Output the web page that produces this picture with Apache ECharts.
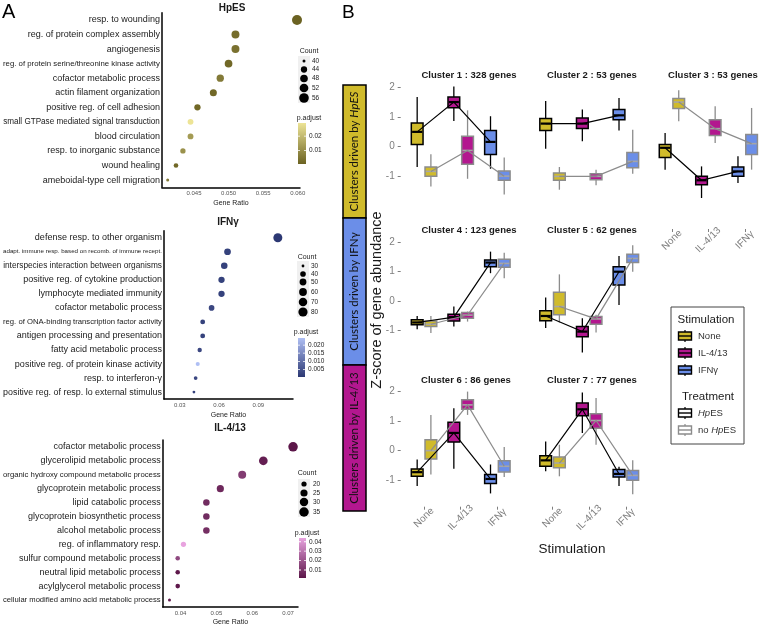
<!DOCTYPE html>
<html><head><meta charset="utf-8">
<script src="https://cdn.jsdelivr.net/npm/echarts@6/dist/echarts.min.js"></script>
<style>html,body{margin:0;padding:0;background:#fff}#c{width:763px;height:627px}</style>
</head><body><div id="c"></div><script>
// ---------------- Panel A data ----------------
const hpesTerms = ['resp. to wounding','reg. of protein complex assembly','angiogenesis','reg. of protein serine/threonine kinase activity','cofactor metabolic process','actin filament organization','positive reg. of cell adhesion','small GTPase mediated signal transduction','blood circulation','resp. to inorganic substance','wound healing','ameboidal-type cell migration'];
const hpesRatio = [0.0599,0.0510,0.0510,0.0500,0.0488,0.0478,0.0455,0.0445,0.0445,0.0434,0.0424,0.0412];
const hpesCount = [58,49,49,48,47,46,44,43,43,42,41,40];
const hpesPadj = [0.0007,0.003,0.004,0.002,0.006,0.002,0.002,0.029,0.013,0.011,0.002,0.006];
const hpesCountBreaks = [40,44,48,52,56];
const hpesPadjBreaks = [0.02,0.01];

const ifnTerms = ['defense resp. to other organism','adapt. immune resp. based on recomb. of immune recept.','interspecies interaction between organisms','positive reg. of cytokine production','lymphocyte mediated immunity','cofactor metabolic process','reg. of ONA-binding transcription factor activity','antigen processing and presentation','fatty acid metabolic process','positive reg. of protein kinase activity','resp. to interferon-γ','positive reg. of resp. lo external stimulus'];
const ifnRatio = [0.105,0.0665,0.064,0.0619,0.0619,0.0543,0.0475,0.0475,0.0452,0.0437,0.0421,0.0408];
const ifnCount = [77,49,47,45,45,40,35,35,33,32,31,30];
const ifnPadj = [0.0003,0.002,0.002,0.002,0.002,0.003,0.002,0.002,0.003,0.0244,0.003,0.002];
const ifnCountBreaks = [30,40,50,60,70,80];
const ifnPadjBreaks = [0.020,0.015,0.010,0.005];

const ilTerms = ['cofactor metabolic process','glycerolipid metabolic process','organic hydroxy compound metabolic process','glycoprotein metabolic process','lipid catabolic process','glycoprotein biosynthetic process','alcohol metabolic process','reg. of inflammatory resp.','sulfur compound metabolic process','neutral lipid metabolic process','acylglycerol metabolic process','cellular modified amino acid metabolic process'];
const ilRatio = [0.0714,0.0631,0.0572,0.0511,0.0472,0.0472,0.0472,0.0408,0.0392,0.0392,0.0392,0.0369];
const ilCount = [35,31,28,25,23,23,23,20,19,19,19,18];
const ilPadj = [0.0015,0.004,0.013,0.007,0.008,0.008,0.009,0.044,0.017,0.002,0.002,0.003];
const ilCountBreaks = [20,25,30,35];
const ilPadjBreaks = [0.04,0.03,0.02,0.01];

// ---------------- Panel B data ----------------
const stimulations = ['None','IL-4/13','IFNγ'];
const clusterNames = ['Cluster 1 : 328 genes','Cluster 2 : 53 genes','Cluster 3 : 53 genes','Cluster 4 : 123 genes','Cluster 5 : 62 genes','Cluster 6 : 86 genes','Cluster 7 : 77 genes'];
// [lower whisker, Q1, median, Q3, upper whisker] for None, IL-4/13, IFNγ
const c1HpES   = [[-0.70,0.06,0.49,0.79,1.67],[0.86,1.31,1.50,1.67,2.03],[-0.76,-0.28,0.15,0.54,1.02]];
const c1NoHpES = [[-1.36,-1.01,-0.85,-0.70,-0.27],[-1.10,-0.61,-0.14,0.34,1.22],[-1.63,-1.15,-1.01,-0.84,-0.38]];
const c2HpES   = [[-0.08,0.54,0.77,0.94,1.54],[0.17,0.60,0.77,0.96,1.25],[0.54,0.90,1.05,1.25,1.64]];
const c2NoHpES = [[-1.47,-1.15,-1.02,-0.90,-0.70],[-1.32,-1.13,-1.02,-0.93,-0.79],[-0.93,-0.73,-0.51,-0.21,0.56]];
const c3HpES   = [[-0.79,-0.38,-0.05,0.06,0.45],[-1.75,-1.30,-1.15,-1.01,-0.68],[-1.24,-1.01,-0.85,-0.70,-0.34]];
const c3NoHpES = [[0.85,1.28,1.50,1.62,1.90],[0.11,0.37,0.60,0.90,1.36],[-0.79,-0.28,0.09,0.40,1.30]];
const c4HpES   = [[-0.96,-0.81,-0.73,-0.64,-0.51],[-0.87,-0.68,-0.55,-0.45,-0.19],[0.94,1.16,1.30,1.39,1.67]];
const c4NoHpES = [[-1.09,-0.87,-0.79,-0.68,-0.51],[-0.70,-0.59,-0.48,-0.39,-0.36],[0.77,1.14,1.27,1.41,1.63]];
const c5HpES   = [[-0.92,-0.67,-0.51,-0.33,0.12],[-1.75,-1.21,-1.04,-0.87,-0.59],[-0.14,0.54,0.99,1.16,1.52]];
const c5NoHpES = [[-0.73,-0.47,-0.19,0.29,0.90],[-1.07,-0.79,-0.61,-0.53,-0.47],[0.99,1.30,1.44,1.58,1.89]];
const c6HpES   = [[-1.20,-0.87,-0.73,-0.62,-0.30],[-0.61,0.29,0.60,0.96,1.44],[-1.45,-1.11,-0.96,-0.81,-0.47]];
const c6NoHpES = [[-0.81,-0.28,0.00,0.37,1.21],[1.21,1.40,1.55,1.72,2.00],[-0.89,-0.72,-0.53,-0.34,0.12]];
const c7HpES   = [[-0.70,-0.53,-0.33,-0.17,0.31],[0.60,1.18,1.40,1.61,1.97],[-1.20,-0.89,-0.79,-0.64,-0.55]];
const c7NoHpES = [[-0.87,-0.58,-0.42,-0.22,0.20],[0.20,0.76,1.02,1.25,1.78],[-1.48,-1.00,-0.84,-0.67,-0.33]];
const yTicksB = [-1,0,1,2];

// ---------------- styles / layout ----------------
const FONT = '"Liberation Sans", Arial, sans-serif';
const TXT = '#1a1a1a';
const GRAYTXT = '#7f7f7f';
const stimColors = ['#d0bb2b','#b3178f','#6b8ee8'];
const treatStroke = ['#000000','#8c8c8c'];
const treatMedian = ['#000000','#a6a6a6'];
const DODGE = 0.187, BOXW = 0.32;

const measureCtx = document.createElement('canvas').getContext('2d');
function fitSize(text, maxW, base) {
  measureCtx.font = base + 'px "Liberation Sans"';
  const w = measureCtx.measureText(text).width;
  return w > maxW ? base * maxW / w : base;
}
function sizeScale(counts, dmin, dmax) {
  const lo = Math.min(...counts), hi = Math.max(...counts);
  return c => dmin + (dmax - dmin) * Math.sqrt(Math.max(0, (c - lo) / (hi - lo)));
}

const aPanels = [
  {terms:hpesTerms, ratio:hpesRatio, count:hpesCount, padj:hpesPadj, title:'HpES', titlePos:[232,8],
   grid:{left:161, top:12.7, width:139, height:174.6}, xmin:0.04036, xmax:0.06033, ticks:[0.045,0.05,0.055,0.06], dec:3,
   colors:['#6b6222','#ede496'], sizes:[3,10], maxW:157,
   countBreaks:hpesCountBreaks, countTitle:[309,51], dotX:304, labX:312, countYs:[61,69.5,78.5,88,98],
   padjBreaks:hpesPadjBreaks, padjTitle:[309,118], bar:{x:298,y:123,w:8,h:41}, padjDec:2},
  {terms:ifnTerms, ratio:ifnRatio, count:ifnCount, padj:ifnPadj, title:'IFNγ', titlePos:[228,222],
   grid:{left:163, top:230.7, width:130, height:168.4}, xmin:0.01785, xmax:0.1166, ticks:[0.03,0.06,0.09], dec:2,
   colors:['#2c3873','#afbff4'], sizes:[2.8,9], maxW:159,
   countBreaks:ifnCountBreaks, countTitle:[307,257], dotX:303, labX:311, countYs:[266,274,282,292,302,312],
   padjBreaks:ifnPadjBreaks, padjTitle:[306,332], bar:{x:298,y:338,w:7,h:39}, padjDec:3},
  {terms:ilTerms, ratio:ilRatio, count:ilCount, padj:ilPadj, title:'IL-4/13', titlePos:[230,428],
   grid:{left:162, top:439.9, width:136, height:170.2}, xmin:0.035, xmax:0.07278, ticks:[0.04,0.05,0.06,0.07], dec:2,
   colors:['#5c1649','#e8a3df'], sizes:[3,9.5], maxW:158,
   countBreaks:ilCountBreaks, countTitle:[307,473], dotX:304, labX:313, countYs:[484,493,502,512],
   padjBreaks:ilPadjBreaks, padjTitle:[307,533], bar:{x:299,y:538,w:7,h:40}, padjDec:2}
];

const bLayout = {colLeft:[405.7,534.2,653.7], rowTop:[81.4,236,385.7], w:110, h:121, ymin:-1.9, ymax:2.2};
const clusterCell = [[0,0],[0,1],[0,2],[1,0],[1,1],[2,0],[2,1]];
const clusterTitlePos = [[469,75],[592,75],[713,75],[469,230],[592,230],[466,380],[592,380]];
const clusterHp = [c1HpES,c2HpES,c3HpES,c4HpES,c5HpES,c6HpES,c7HpES];
const clusterNo = [c1NoHpES,c2NoHpES,c3NoHpES,c4NoHpES,c5NoHpES,c6NoHpES,c7NoHpES];
const xLabelOffset = {2:26.6, 5:0, 6:0};

const grid = [], xAxis = [], yAxis = [], series = [], visualMap = [], elements = [];

// ---------------- Panel A ----------------
aPanels.forEach((p, i) => {
  grid.push(p.grid);
  xAxis.push({type:'value', gridIndex:i, min:p.xmin, max:p.xmax,
    axisLine:{show:true, onZero:false, lineStyle:{color:'#000', width:1.5}},
    axisTick:{show:false}, splitLine:{show:false},
    axisLabel:{customValues:p.ticks, formatter:v => v.toFixed(p.dec), fontSize:6, color:'#555', margin:3},
    name:'Gene Ratio', nameLocation:'middle', nameGap:12, nameTextStyle:{fontSize:7, color:TXT}});
  yAxis.push({type:'category', gridIndex:i, inverse:true,
    data:p.terms.map(t => ({value:t, textStyle:{fontSize:fitSize(t, p.maxW, 9)}})),
    axisLine:{show:true, onZero:false, lineStyle:{color:'#000', width:1.5}}, axisTick:{show:false},
    axisLabel:{color:TXT, margin:2, fontSize:9, interval:0}, splitLine:{show:false}});
  const sz = sizeScale(p.count, p.sizes[0], p.sizes[1]);
  series.push({type:'scatter', xAxisIndex:i, yAxisIndex:i,
    data:p.terms.map((t, k) => [p.ratio[k], k, p.padj[k], p.count[k]]),
    encode:{x:0, y:1}, symbolSize:v => sz(v[3]), itemStyle:{opacity:1}, silent:true});
  const pmin = Math.min(...p.padj), pmax = Math.max(...p.padj);
  visualMap.push({type:'continuous', show:false, seriesIndex:i, dimension:2, min:pmin, max:pmax,
    inRange:{color:p.colors}});
  elements.push({type:'text', x:p.titlePos[0], y:p.titlePos[1],
    style:{text:p.title, fontSize:10, fontWeight:'bold', fontFamily:FONT, fill:TXT, align:'center', verticalAlign:'middle'}});
  elements.push({type:'text', x:p.countTitle[0], y:p.countTitle[1],
    style:{text:'Count', fontSize:7, fontFamily:FONT, fill:TXT, align:'center', verticalAlign:'middle'}});
  const ys = p.countYs;
  elements.push({type:'rect', shape:{x:p.dotX-6, y:ys[0]-5, width:12, height:ys[ys.length-1]-ys[0]+10},
    style:{fill:'#f0f0f0'}});
  p.countBreaks.forEach((c, k) => {
    elements.push({type:'circle', shape:{cx:p.dotX, cy:ys[k], r:sz(c)/2}, style:{fill:'#000'}});
    elements.push({type:'text', x:p.labX, y:ys[k],
      style:{text:String(c), fontSize:6.5, fontFamily:FONT, fill:TXT, align:'left', verticalAlign:'middle'}});
  });
  elements.push({type:'text', x:p.padjTitle[0], y:p.padjTitle[1],
    style:{text:'p.adjust', fontSize:7, fontFamily:FONT, fill:TXT, align:'center', verticalAlign:'middle'}});
  const b = p.bar;
  elements.push({type:'rect', shape:{x:b.x, y:b.y, width:b.w, height:b.h},
    style:{fill:{type:'linear', x:0, y:0, x2:0, y2:1, colorStops:[{offset:0, color:p.colors[1]},{offset:1, color:p.colors[0]}]}}});
  p.padjBreaks.forEach(v => {
    const yy = b.y + b.h - (v - pmin) / (pmax - pmin) * b.h;
    elements.push({type:'rect', shape:{x:b.x, y:yy - 0.4, width:2, height:0.8}, style:{fill:'#fff'}});
    elements.push({type:'rect', shape:{x:b.x + b.w - 2, y:yy - 0.4, width:2, height:0.8}, style:{fill:'#fff'}});
    elements.push({type:'text', x:b.x+b.w+3, y:yy,
      style:{text:v.toFixed(p.padjDec), fontSize:6.5, fontFamily:FONT, fill:TXT, align:'left', verticalAlign:'middle'}});
  });
});

// ---------------- Panel B ----------------
function renderBox(params, api) {
  const j = api.value(0), t = api.value(6);
  const band = api.size([1, 0])[0];
  const cx = api.coord([j, 0])[0] + (t === 0 ? -1 : 1) * band * DODGE;
  const w = band * BOXW;
  const y = k => api.coord([j, api.value(k)])[1];
  const stroke = treatStroke[t];
  const wl = 1.3, ml = t === 0 ? 2.2 : 1.6;
  return {type:'group', children:[
    {type:'rect', shape:{x:cx - wl/2, y:y(5), width:wl, height:y(1) - y(5)}, style:{fill:stroke}},
    {type:'rect', shape:{x:cx - w/2, y:y(4), width:w, height:y(2) - y(4)}, style:{fill:stimColors[j], stroke:stroke, lineWidth:1.5}},
    {type:'rect', shape:{x:cx - w/2 + 0.8, y:y(3) - ml/2, width:w - 1.6, height:ml}, style:{fill:treatMedian[t]}}
  ]};
}
function renderLine(params, api) {
  const t = api.value(0);
  const band = api.size([1, 0])[0];
  const pts = [0, 1, 2].map(j => {
    const c = api.coord([j, api.value(1 + j)]);
    return [c[0] + (t === 0 ? -1 : 1) * band * DODGE, c[1]];
  });
  return {type:'polyline', shape:{points:pts}, style:{stroke:treatStroke[t], lineWidth:1.2, fill:null}};
}

clusterNames.forEach((name, k) => {
  const gi = 3 + k;
  const [r, c] = clusterCell[k];
  grid.push({left:bLayout.colLeft[c], top:bLayout.rowTop[r], width:bLayout.w, height:bLayout.h});
  const showX = xLabelOffset[k] !== undefined;
  xAxis.push({type:'category', gridIndex:gi, data:stimulations, boundaryGap:true,
    offset: showX ? xLabelOffset[k] : 0,
    axisLine:{show:false, onZero:false},
    axisTick:{show:showX, alignWithLabel:true, length:3, lineStyle:{color:GRAYTXT}},
    axisLabel:{show:showX, rotate:45, align:'center', verticalAlign:'middle', color:GRAYTXT, fontSize:10, margin:11, interval:0},
    splitLine:{show:false}});
  const showY = c === 0;
  yAxis.push({type:'value', gridIndex:gi, min:bLayout.ymin, max:bLayout.ymax, offset:5,
    axisLine:{show:false, onZero:false}, splitLine:{show:false},
    axisTick:{show:showY, customValues:yTicksB, length:3, lineStyle:{color:GRAYTXT}},
    axisLabel:{show:showY, customValues:yTicksB, color:GRAYTXT, fontSize:10, margin:6}});
  const boxData = [];
  [clusterHp[k], clusterNo[k]].forEach((arr, t) => arr.forEach((s, j) => boxData.push([j, s[0], s[1], s[2], s[3], s[4], t])));
  series.push({type:'custom', xAxisIndex:gi, yAxisIndex:gi, data:boxData, encode:{x:0, y:[1,2,3,4,5]},
    renderItem:renderBox, z:2, silent:true, clip:false});
  const lineData = [clusterHp[k], clusterNo[k]].map((arr, t) => [t, arr[0][2], arr[1][2], arr[2][2]]);
  series.push({type:'custom', xAxisIndex:gi, yAxisIndex:gi, data:lineData, encode:{x:0, y:[1,2,3]},
    renderItem:renderLine, z:3, silent:true, clip:false});
  elements.push({type:'text', x:clusterTitlePos[k][0], y:clusterTitlePos[k][1],
    style:{text:name, fontSize:9.5, fontWeight:'bold', fontFamily:FONT, fill:TXT, align:'center', verticalAlign:'middle'}});
});

// panel letters
elements.push({type:'text', x:2, y:2, style:{text:'A', fontSize:20, fontFamily:FONT, fill:'#000', align:'left', verticalAlign:'top'}});
elements.push({type:'text', x:342, y:3, style:{text:'B', fontSize:19, fontFamily:FONT, fill:'#000', align:'left', verticalAlign:'top'}});

// strips
const STRIPFONT = 'Lato, "Open Sans", sans-serif';
const strips = [
  {y0:85, y1:218, color:stimColors[0], text:'Clusters driven by {i|HpES}'},
  {y0:218, y1:365, color:stimColors[2], text:'Clusters driven by IFNγ'},
  {y0:365, y1:511, color:stimColors[1], text:'Clusters driven by IL-4/13'}
];
strips.forEach(s => {
  elements.push({type:'rect', shape:{x:343, y:s.y0, width:23, height:s.y1 - s.y0},
    style:{fill:s.color, stroke:'#000', lineWidth:1.5}});
  elements.push({type:'text', x:354.5, y:(s.y0 + s.y1) / 2, rotation:Math.PI / 2,
    style:{text:s.text, fontSize:11.5, fontFamily:STRIPFONT, fill:'#111', align:'center', verticalAlign:'middle',
      rich:{i:{fontStyle:'italic', fontSize:11.5, fontFamily:STRIPFONT, fill:'#111'}}}});
});

elements.push({type:'text', x:377, y:300, rotation:Math.PI / 2,
  style:{text:'Z-score of gene abundance', fontSize:14.5, fontFamily:FONT, fill:TXT, align:'center', verticalAlign:'middle'}});
elements.push({type:'text', x:572, y:549,
  style:{text:'Stimulation', fontSize:13.5, fontFamily:FONT, fill:TXT, align:'center', verticalAlign:'middle'}});

// legend B
elements.push({type:'rect', shape:{x:671, y:307, width:73, height:137}, style:{fill:'#fff', stroke:'#444', lineWidth:1}});
elements.push({type:'text', x:706, y:320, style:{text:'Stimulation', fontSize:11.5, fontFamily:FONT, fill:TXT, align:'center', verticalAlign:'middle'}});
function keyGlyph(cx, cy, fill, stroke, med) {
  elements.push({type:'rect', shape:{x:cx - 0.6, y:cy - 6, width:1.2, height:12}, style:{fill:stroke}});
  elements.push({type:'rect', shape:{x:cx - 6.5, y:cy - 4, width:13, height:8}, style:{fill:fill, stroke:stroke, lineWidth:1.4}});
  elements.push({type:'rect', shape:{x:cx - 6, y:cy - 0.7, width:12, height:1.4}, style:{fill:med}});
}
const stimKeyY = [336, 353, 370];
stimulations.forEach((s, j) => {
  keyGlyph(685, stimKeyY[j], stimColors[j], '#000', '#000');
  elements.push({type:'text', x:698, y:stimKeyY[j], style:{text:s, fontSize:9.5, fontFamily:FONT, fill:'#333', align:'left', verticalAlign:'middle'}});
});
elements.push({type:'text', x:708, y:397, style:{text:'Treatment', fontSize:11.5, fontFamily:FONT, fill:TXT, align:'center', verticalAlign:'middle'}});
const treatKeyY = [413, 430];
const treatLabels = ['{i|Hp}ES', 'no {i|Hp}ES'];
treatLabels.forEach((lab, t) => {
  keyGlyph(685, treatKeyY[t], '#fff', treatStroke[t], treatStroke[t]);
  elements.push({type:'text', x:698, y:treatKeyY[t],
    style:{text:lab, fontSize:9.5, fontFamily:FONT, fill:'#333', align:'left', verticalAlign:'middle',
      rich:{i:{fontStyle:'italic', fontSize:9.5, fontFamily:FONT, fill:'#333'}}}});
});

const chart = echarts.init(document.getElementById('c'), null, {renderer:'canvas', width:763, height:627});
chart.setOption({
  animation:false,
  backgroundColor:'#fff',
  textStyle:{fontFamily:FONT},
  grid, xAxis, yAxis, visualMap, series,
  graphic:{elements}
});
</script></body></html>
